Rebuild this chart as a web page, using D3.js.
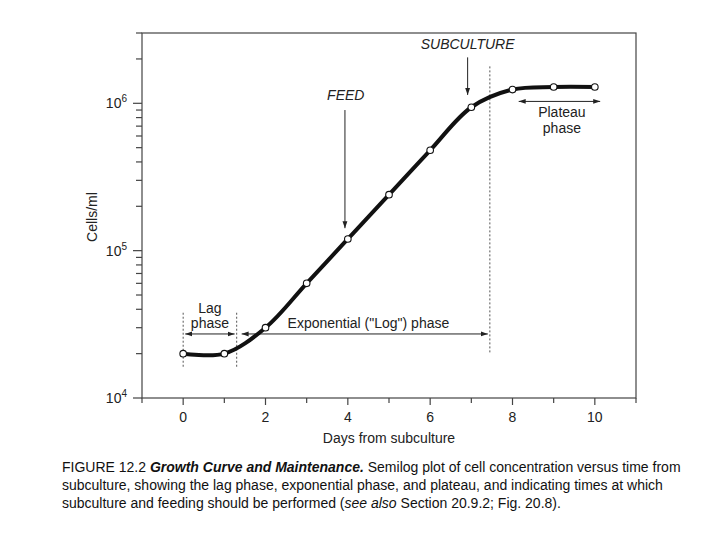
<!DOCTYPE html>
<html>
<head>
<meta charset="utf-8">
<script src="https://cdn.jsdelivr.net/npm/d3@7"></script>
<style>
  body { margin: 0; background: #fff; font-family: "Liberation Sans", Arial, sans-serif; }
  svg text { fill: #222; }
</style>
</head>
<body>
<script>
// data
var days = [0, 1, 2, 3, 4, 5, 6, 7, 8, 9, 10];
var cells = [2.0e4, 2.0e4, 3.0e4, 6.0e4, 1.2e5, 2.4e5, 4.8e5, 9.4e5, 1.24e6, 1.29e6, 1.29e6];
var xTicks = [-1, 0, 1, 2, 3, 4, 5, 6, 7, 8, 9, 10, 11];
var xLabels = [0, 2, 4, 6, 8, 10];
var yExponents = [4, 5, 6];
// phase boundaries (days)
var lagStart = 0, lagEnd = 1.3, expEnd = 7.45;

var width = 720, height = 540;
var plotLeft = 142, plotRight = 636, plotTop = 33, plotBottom = 398;

var svg = d3.select("body").append("svg")
    .attr("width", width)
    .attr("height", height);

var x = d3.scaleLinear().domain([-1, 11]).range([plotLeft, plotRight]);
var y = d3.scaleLog().domain([1e4, 3e6]).range([plotBottom, plotTop]);

var axisColor = "#444";

// arrow heads
var defs = svg.append("defs");
defs.append("marker")
    .attr("id", "head")
    .attr("viewBox", "0 0 10 10")
    .attr("refX", 10).attr("refY", 5)
    .attr("markerWidth", 7).attr("markerHeight", 7)
    .attr("markerUnits", "userSpaceOnUse")
    .attr("orient", "auto-start-reverse")
  .append("path")
    .attr("d", "M0,1.5 L10,5 L0,8.5 Z")
    .attr("fill", "#222");

// frame
svg.append("rect")
    .attr("x", plotLeft).attr("y", plotTop)
    .attr("width", plotRight - plotLeft).attr("height", plotBottom - plotTop)
    .attr("fill", "none")
    .attr("stroke", axisColor)
    .attr("stroke-width", 1.2);

// x axis ticks
svg.append("g").selectAll("line")
    .data(xTicks)
    .enter().append("line")
    .attr("x1", function (d) { return x(d); })
    .attr("x2", function (d) { return x(d); })
    .attr("y1", plotBottom)
    .attr("y2", function (d) { return plotBottom + (d % 2 === 0 ? 7 : 5); })
    .attr("stroke", axisColor)
    .attr("stroke-width", 1.2);

svg.append("g").selectAll("text")
    .data(xLabels)
    .enter().append("text")
    .attr("x", function (d) { return x(d); })
    .attr("y", plotBottom + 24)
    .attr("text-anchor", "middle")
    .style("font-size", "14px")
    .text(function (d) { return d; });

svg.append("text")
    .attr("x", x(5))
    .attr("y", plotBottom + 45)
    .attr("text-anchor", "middle")
    .style("font-size", "14px")
    .text("Days from subculture");

// y axis ticks (log)
var yTickVals = [];
yExponents.forEach(function (e) {
  for (var m = 1; m <= 9; m++) {
    var v = m * Math.pow(10, e);
    if (v <= 3e6) yTickVals.push({ v: v, major: m === 1 });
  }
});

svg.append("g").selectAll("line")
    .data(yTickVals)
    .enter().append("line")
    .attr("x1", function (d) { return plotLeft - (d.major ? 9 : 6); })
    .attr("x2", plotLeft)
    .attr("y1", function (d) { return y(d.v); })
    .attr("y2", function (d) { return y(d.v); })
    .attr("stroke", axisColor)
    .attr("stroke-width", 1.2);

var yl = svg.append("g").selectAll("text")
    .data(yExponents)
    .enter().append("text")
    .attr("x", plotLeft - 15)
    .attr("y", function (d) { return y(Math.pow(10, d)) + 5; })
    .attr("text-anchor", "end")
    .style("font-size", "14px");
yl.append("tspan").text("10");
yl.append("tspan")
    .attr("dy", -6)
    .style("font-size", "10px")
    .text(function (d) { return d; });

svg.append("text")
    .attr("transform", "translate(97," + 217 + ") rotate(-90)")
    .attr("text-anchor", "middle")
    .style("font-size", "14px")
    .text("Cells/ml");

// dotted phase boundaries
var bounds = [
  { d: lagStart, y0: 1.63e4, y1: 3.8e4 },
  { d: lagEnd, y0: 1.63e4, y1: 3.8e4 },
  { d: expEnd, y0: 2.04e4, y1: 1.83e6 }
];
svg.append("g").selectAll("line")
    .data(bounds)
    .enter().append("line")
    .attr("x1", function (d) { return x(d.d); })
    .attr("x2", function (d) { return x(d.d); })
    .attr("y1", function (d) { return y(d.y0); })
    .attr("y2", function (d) { return y(d.y1); })
    .attr("stroke", "#555")
    .attr("stroke-width", 1)
    .attr("stroke-dasharray", "2,2");

// phase arrows
var phaseArrows = [
  { a: 0.05, b: 1.25, v: 2.72e4 },
  { a: 1.42, b: 7.4, v: 2.72e4 },
  { a: 8.15, b: 10.13, v: 1.03e6 }
];
svg.append("g").selectAll("line")
    .data(phaseArrows)
    .enter().append("line")
    .attr("x1", function (d) { return x(d.a); })
    .attr("x2", function (d) { return x(d.b); })
    .attr("y1", function (d) { return y(d.v); })
    .attr("y2", function (d) { return y(d.v); })
    .attr("stroke", "#222")
    .attr("stroke-width", 1)
    .attr("marker-start", "url(#head)")
    .attr("marker-end", "url(#head)");

// phase labels
function label(txt, dx, v, opts) {
  opts = opts || {};
  svg.append("text")
    .attr("x", x(dx))
    .attr("y", y(v))
    .attr("text-anchor", "middle")
    .style("font-size", "14px")
    .style("font-style", opts.italic ? "italic" : "normal")
    .text(txt);
}
label("Lag", 0.65, 3.78e4);
label("phase", 0.65, 2.97e4);
label("Exponential (\"Log\") phase", 4.5, 2.97e4);
label("Plateau", 9.2, 8.1e5);
label("phase", 9.2, 6.3e5);
label("FEED", 3.95, 1.06e6, { italic: true });
label("SUBCULTURE", 6.91, 2.34e6, { italic: true });

// FEED and SUBCULTURE pointers
var pointers = [
  { d: 3.93, v0: 9.0e5, v1: 1.42e5 },
  { d: 6.91, v0: 2.05e6, v1: 1.14e6 }
];
svg.append("g").selectAll("line")
    .data(pointers)
    .enter().append("line")
    .attr("x1", function (d) { return x(d.d); })
    .attr("x2", function (d) { return x(d.d); })
    .attr("y1", function (d) { return y(d.v0); })
    .attr("y2", function (d) { return y(d.v1); })
    .attr("stroke", "#222")
    .attr("stroke-width", 1)
    .attr("marker-end", "url(#head)");

// growth curve
var pts = days.map(function (d, i) { return [d, cells[i]]; });
var line = d3.line()
    .x(function (d) { return x(d[0]); })
    .y(function (d) { return y(d[1]); })
    .curve(d3.curveCatmullRom.alpha(0.5));

svg.append("path")
    .datum(pts)
    .attr("d", line)
    .attr("fill", "none")
    .attr("stroke", "#111")
    .attr("stroke-width", 4);

svg.append("g").selectAll("circle")
    .data(pts)
    .enter().append("circle")
    .attr("cx", function (d) { return x(d[0]); })
    .attr("cy", function (d) { return y(d[1]); })
    .attr("r", 3.3)
    .attr("fill", "#fff")
    .attr("stroke", "#111")
    .attr("stroke-width", 1.1);

// caption
var cap = svg.append("text")
    .style("font-size", "14px")
    .style("fill", "#111");
var l1 = cap.append("tspan").attr("x", 62).attr("y", 472);
l1.append("tspan").text("FIGURE 12.2 ");
l1.append("tspan").style("font-weight", "bold").style("font-style", "italic").text("Growth Curve and Maintenance.");
l1.append("tspan").text(" Semilog plot of cell concentration versus time from");
cap.append("tspan").attr("x", 62).attr("y", 490)
    .text("subculture, showing the lag phase, exponential phase, and plateau, and indicating times at which");
var l3 = cap.append("tspan").attr("x", 62).attr("y", 508);
l3.append("tspan").text("subculture and feeding should be performed (");
l3.append("tspan").style("font-style", "italic").text("see also");
l3.append("tspan").text(" Section 20.9.2; Fig. 20.8).");
</script>
</body>
</html>
